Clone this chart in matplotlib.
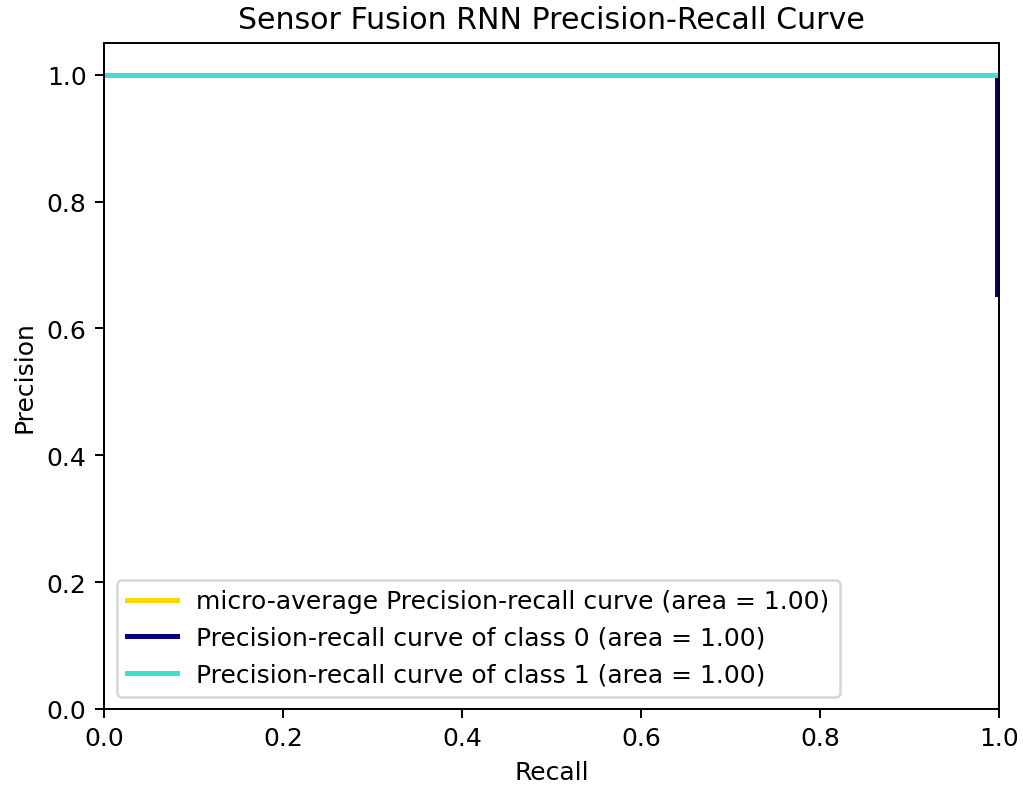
import matplotlib

matplotlib.use("Agg")
import matplotlib.pyplot as plt

# curve points (recall, precision)
micro_recall = [0.0, 1.0]
micro_precision = [1.0, 1.0]
class0_recall = [0.0, 0.998, 0.998]
class0_precision = [1.0, 1.0, 0.654]
class1_recall = [0.0, 1.0]
class1_precision = [1.0, 1.0]

micro_area = 1.00
class_areas = [1.00, 1.00]

DPI = 180
fig = plt.figure(figsize=(1023 / DPI, 786 / DPI), dpi=DPI)
ax = fig.add_axes([104 / 1023, 1 - 710 / 786, 895 / 1023, 666 / 786])

ax.plot(micro_recall, micro_precision, color="gold", lw=2,
        label=f"micro-average Precision-recall curve (area = {micro_area:.2f})")
ax.plot(class0_recall, class0_precision, color="navy", lw=2,
        label=f"Precision-recall curve of class 0 (area = {class_areas[0]:.2f})")
ax.plot(class1_recall, class1_precision, color="turquoise", lw=2,
        label=f"Precision-recall curve of class 1 (area = {class_areas[1]:.2f})")

ax.set_xlim(0.0, 1.0)
ax.set_ylim(0.0, 1.05)
ax.set_xlabel("Recall")
ax.set_ylabel("Precision")
ax.set_title("Sensor Fusion RNN Precision-Recall Curve")
ax.legend(loc="lower left")

fig.savefig("out.png", dpi=DPI)
